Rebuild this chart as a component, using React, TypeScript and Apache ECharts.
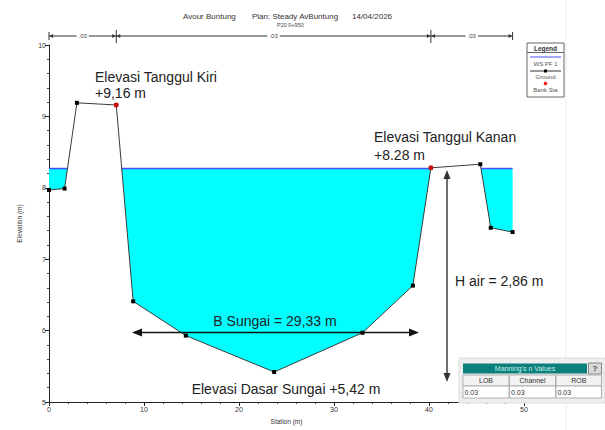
import React, { useEffect, useRef } from "react";
import * as echarts from "echarts";

// ---- Data ----
const stations = [0, 1.64, 2.94, 7.08, 8.86, 14.4, 23.7, 33.0, 38.3, 40.2, 45.4, 46.5, 48.8];
const elevations = [7.97, 7.99, 9.19, 9.16, 6.41, 5.93, 5.42, 5.97, 6.63, 8.28, 8.33, 7.44, 7.38];
const bankStations = [7.08, 40.2];
const bankElevations = [9.16, 8.28];
const wsElevation = 8.27;
const manningLabels = [".03", ".03", ".03"];
const manningHeaders = ["LOB", "Channel", "ROB"];
const manningValues = ["0.03", "0.03", "0.03"];
const titleParts = ["Avour Buntung", "Plan: Steady AvBuntung", "14/04/2026"];
const subTitle = "P20 0+950";
const legendItems = ["WS PF 1", "Ground", "Bank Sta"];

function wetRegions(xs: number[], ys: number[], ws: number) {
  const regions: number[][][] = [];
  let cur: number[][] | null = null;
  if (ys[0] < ws) cur = [[xs[0], ws], [xs[0], ys[0]]];
  for (let i = 0; i < xs.length - 1; i++) {
    const x0 = xs[i], y0 = ys[i], x1 = xs[i + 1], y1 = ys[i + 1];
    const w0 = y0 < ws, w1 = y1 < ws;
    if (w0 && w1) cur!.push([x1, y1]);
    else if (w0 && !w1) {
      const t = (ws - y0) / (y1 - y0);
      cur!.push([x0 + t * (x1 - x0), ws]);
      regions.push(cur!);
      cur = null;
    } else if (!w0 && w1) {
      const t = (ws - y0) / (y1 - y0);
      cur = [[x0 + t * (x1 - x0), ws], [x1, y1]];
    }
  }
  if (cur) {
    cur.push([xs[xs.length - 1], ws]);
    regions.push(cur);
  }
  return regions;
}

const FONT = "Liberation Sans, Arial, sans-serif";

export default function App() {
  const ref = useRef<HTMLDivElement>(null);
  useEffect(() => {
    const chart = echarts.init(ref.current!, null, { renderer: "svg" });
    const regions = wetRegions(stations, elevations, wsElevation);
    const option: any = {
      animation: false,
      backgroundColor: "#ffffff",
      grid: { left: 49, right: 81, top: 45, bottom: 22 },
      xAxis: {
        type: "value",
        min: 0,
        max: 50,
        interval: 10,
        name: "Station (m)",
        nameLocation: "middle",
        nameGap: 16,
        nameTextStyle: { fontSize: 6.5, color: "#333", fontFamily: FONT },
        axisLine: { lineStyle: { color: "#222", width: 1 } },
        axisTick: { length: 4, lineStyle: { color: "#222" } },
        minorTick: { show: true, splitNumber: 5, length: 2, lineStyle: { color: "#444" } },
        axisLabel: { fontSize: 7, color: "#333", margin: 4, fontFamily: FONT },
        splitLine: { show: false },
      },
      yAxis: {
        type: "value",
        min: 5,
        max: 10,
        interval: 1,
        name: "Elevation (m)",
        nameLocation: "middle",
        nameGap: 26,
        nameTextStyle: { fontSize: 6.5, color: "#333", fontFamily: FONT },
        axisLine: { show: true, lineStyle: { color: "#222", width: 1 } },
        axisTick: { show: true, length: 4, lineStyle: { color: "#222" } },
        minorTick: { show: true, splitNumber: 5, length: 2, lineStyle: { color: "#444" } },
        axisLabel: { fontSize: 7, color: "#333", margin: 3, fontFamily: FONT },
        splitLine: { show: false },
      },
      series: [
        {
          type: "custom",
          z: 1,
          data: regions.map((r) => [r[0][0], wsElevation]),
          renderItem: (params: any, api: any) => {
            const reg = regions[params.dataIndex];
            const pts = reg.map((p) => api.coord(p));
            const a = pts[0], b = pts[pts.length - 1];
            return {
              type: "group",
              children: [
                { type: "polygon", shape: { points: pts }, style: { fill: "#00FFFF", stroke: "none" } },
                { type: "line", shape: { x1: a[0], y1: a[1], x2: b[0], y2: b[1] }, style: { stroke: "#4b4bff", lineWidth: 1.5 } },
              ],
            };
          },
        },
        {
          type: "line",
          z: 3,
          data: stations.map((s, i) => [s, elevations[i]]),
          symbol: "rect",
          symbolSize: 4,
          itemStyle: { color: "#000" },
          lineStyle: { color: "#3a3a3a", width: 1 },
        },
        {
          type: "scatter",
          z: 4,
          data: bankStations.map((s, i) => [s, bankElevations[i]]),
          symbol: "circle",
          symbolSize: 5,
          itemStyle: { color: "#ff1010" },
        },
      ],
    };
    chart.setOption(option);

    const px = (x: number) => chart.convertToPixel({ gridIndex: 0 }, [x, 5])[0];
    const g: any[] = [];
    const txt = (x: number, y: number, text: string, size: number, opts: any = {}) =>
      g.push({
        type: "text",
        x,
        y,
        z: 110,
        style: { text, font: `${opts.bold ? "bold " : ""}${size}px ${FONT}`, fill: opts.fill || "#222", align: opts.align || "left", verticalAlign: "middle", ...(opts.style || {}) },
      });
    const line = (x1: number, y1: number, x2: number, y2: number, stroke: string, lw = 1, z = 100) =>
      g.push({ type: "line", z, shape: { x1, y1, x2, y2 }, style: { stroke, lineWidth: lw } });
    const poly = (points: number[][], fill: string) => g.push({ type: "polygon", z: 100, shape: { points }, style: { fill } });

    // Faint screenshot edge
    line(566, 0, 566, 430, "#ececec", 1, 90);

    // Title
    txt(183, 16, titleParts[0], 8, { fill: "#333" });
    txt(252, 16, titleParts[1], 8, { fill: "#333" });
    txt(352, 16, titleParts[2], 8, { fill: "#333" });
    txt(277, 25, subTitle, 5.5, { fill: "#444" });

    // Manning n line
    const my = 36;
    const bounds = [stations[0], bankStations[0], bankStations[1], stations[stations.length - 1]];
    const bx = bounds.map(px);
    line(bx[0], my, bx[3], my, "#333", 1);
    bx.forEach((x, i) => {
      const inner = i === 1 || i === 2;
      line(x, inner ? 30 : 32, x, inner ? 43 : 40, "#333", 1);
      if (i > 0) poly([[x - 0.5, my], [x - 4, my - 2], [x - 4, my + 2]], "#333");
      if (i < 3) poly([[x + 0.5, my], [x + 4, my - 2], [x + 4, my + 2]], "#333");
    });
    for (let i = 0; i < 3; i++) {
      txt((bx[i] + bx[i + 1]) / 2, my, manningLabels[i], 6, { align: "center", fill: "#444", style: { backgroundColor: "#fff", padding: [0, 2] } });
    }

    // Legend box
    g.push({ type: "rect", z: 100, shape: { x: 527, y: 43, width: 37, height: 54 }, style: { fill: "#fff", stroke: "#666", lineWidth: 1 } });
    txt(545.5, 48, "Legend", 6.5, { align: "center", bold: true, fill: "#333" });
    line(527, 52.5, 564, 52.5, "#666", 1, 101);
    line(530, 57, 561, 57, "#8a8aff", 1.5, 101);
    txt(545.5, 64, legendItems[0], 6, { align: "center", fill: "#555" });
    line(530, 71, 561, 71, "#333", 1, 101);
    g.push({ type: "rect", z: 102, shape: { x: 544, y: 69.5, width: 3, height: 3 }, style: { fill: "#000" } });
    txt(545.5, 77, legendItems[1], 6, { align: "center", fill: "#555" });
    g.push({ type: "circle", z: 102, shape: { cx: 545.5, cy: 83.5, r: 1.8 }, style: { fill: "#ff1010" } });
    txt(545.5, 90, legendItems[2], 6, { align: "center", fill: "#555" });

    // Annotations
    txt(95, 77, "Elevasi Tanggul Kiri", 14);
    txt(95, 93, "+9,16 m", 14);
    txt(374, 137, "Elevasi Tanggul Kanan", 14);
    txt(374, 155, "+8.28 m", 14);
    txt(275, 321, "B Sungai = 29,33 m", 14, { align: "center" });
    txt(455, 281, "H air = 2,86 m", 14);
    txt(286, 389, "Elevasi Dasar Sungai +5,42 m", 14, { align: "center" });

    // B Sungai arrow
    line(138, 332.5, 413, 332.5, "#111", 1.6);
    poly([[132, 332.5], [142, 328.5], [142, 336.5]], "#111");
    poly([[419, 332.5], [409, 328.5], [409, 336.5]], "#111");
    // H air arrow
    line(447, 176, 447, 376, "#333", 1.4);
    poly([[447, 170], [443.5, 179], [450.5, 179]], "#333");
    poly([[447, 382], [443.5, 373], [450.5, 373]], "#333");

    // Manning's n table
    g.push({ type: "rect", z: 100, shape: { x: 459, y: 358, width: 146, height: 45 }, style: { fill: "#eeeeee", stroke: "#dddddd", lineWidth: 1 } });
    g.push({ type: "rect", z: 101, shape: { x: 463, y: 363.5, width: 124, height: 10 }, style: { fill: "#0b7f7a" } });
    txt(525, 368.5, "Manning's n Values", 7, { align: "center", fill: "#c8f0ee" });
    g.push({ type: "rect", z: 101, shape: { x: 588.5, y: 363, width: 13, height: 11 }, style: { fill: "#d9d9d9", stroke: "#888", lineWidth: 1 } });
    txt(595, 368.5, "?", 8, { align: "center", bold: true, fill: "#444" });
    const cx = [463, 509.5, 556];
    const cw = [46, 46, 45.5];
    for (let i = 0; i < 3; i++) {
      g.push({ type: "rect", z: 101, shape: { x: cx[i], y: 375, width: cw[i], height: 11 }, style: { fill: "#f2f2f2", stroke: "#b0b0b0", lineWidth: 1 } });
      txt(cx[i] + cw[i] / 2, 380.5, manningHeaders[i], 7, { align: "center", fill: "#333" });
      g.push({ type: "rect", z: 101, shape: { x: cx[i], y: 386, width: cw[i], height: 12 }, style: { fill: "#fff", stroke: "#b0b0b0", lineWidth: 1 } });
      txt(cx[i] + 1.5, 392, manningValues[i], 7, { fill: "#333" });
    }

    chart.setOption({ graphic: g });
    return () => chart.dispose();
  }, []);
  return <div ref={ref} style={{ position: "absolute", left: 0, top: 0, width: 605, height: 430 }} />;
}
